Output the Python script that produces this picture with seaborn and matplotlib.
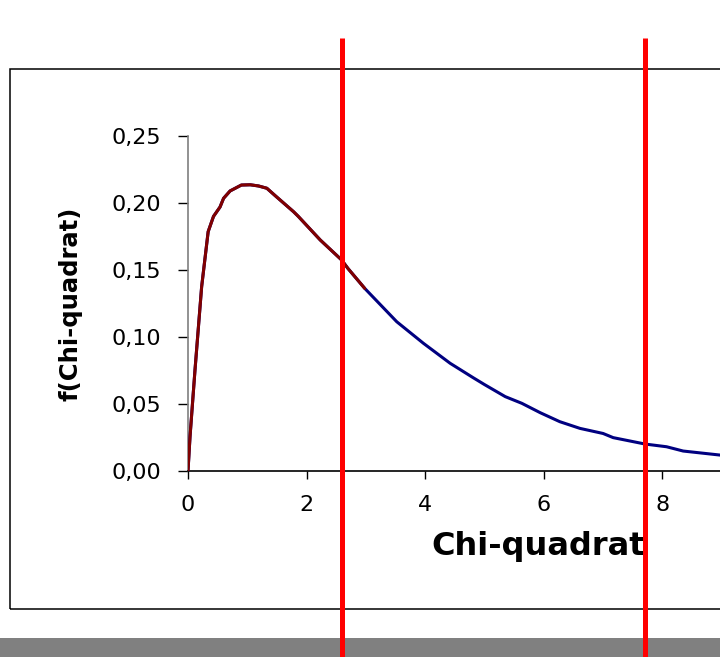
import numpy as np
import pandas as pd
import matplotlib
matplotlib.use("Agg")
import matplotlib.pyplot as plt
from matplotlib.patches import Rectangle
from matplotlib.ticker import FuncFormatter
import seaborn as sns

# density curve of the chi-square statistic
chi_x = [0.0, 0.034, 0.118, 0.23, 0.34, 0.43, 0.54, 0.60, 0.71, 0.90, 1.05, 1.19,
         1.33, 1.49, 1.78, 1.86, 2.23, 2.59, 2.70, 2.98, 3.52, 3.97,
         4.42, 4.81, 5.00, 5.35, 5.63, 5.94, 6.27, 6.61, 7.00, 7.17, 7.71, 8.07,
         8.35, 8.97, 10.0, 11.0, 12.0]
chi_f = [0.0, 0.0256, 0.0754, 0.1375, 0.1786, 0.190, 0.197, 0.2035, 0.209, 0.2134,
         0.2136, 0.2127, 0.211, 0.2047, 0.1935, 0.190, 0.1724,
         0.1575, 0.151, 0.1363, 0.1114, 0.0953, 0.0804, 0.0696, 0.0645, 0.0555,
         0.0505, 0.0435, 0.0368, 0.0318, 0.028, 0.0249, 0.0201, 0.0181, 0.0149,
         0.0119, 0.0080, 0.0055, 0.0035]
# highlighted lower part of the curve
lower_end = 2.98
# critical values marked by vertical lines
crit_values = [2.605, 7.715]

x_ticks = [0, 2, 4, 6, 8]
y_ticks = [0.00, 0.05, 0.10, 0.15, 0.20, 0.25]

df = pd.DataFrame({"x": chi_x, "f": chi_f})
df_low = df[df["x"] <= lower_end]

sns.set_style("white")
plt.rcParams["font.family"] = ["DejaVu Sans"]
plt.rcParams["text.color"] = "black"
plt.rcParams["axes.labelcolor"] = "black"

W, H = 720, 657
fig = plt.figure(figsize=(W / 100, H / 100), dpi=100)
fig.patch.set_facecolor("white")

# plot area (extends past the right edge of the canvas)
ax = fig.add_axes([188 / W, 186 / H, 711.6 / W, 335 / H])
ax.set_facecolor("none")

sns.lineplot(data=df, x="x", y="f", ax=ax, color="#000080", lw=2.2,
             sort=False, estimator=None, zorder=3)
sns.lineplot(data=df_low, x="x", y="f", ax=ax, color="#800000", lw=2.2,
             sort=False, estimator=None, zorder=4)

ax.set_xlim(0, 12)
ax.set_ylim(0, 0.25)
ax.set_xticks(x_ticks)
ax.set_yticks(y_ticks)
ax.yaxis.set_major_formatter(FuncFormatter(lambda v, p: f"{v:.2f}".replace(".", ",")))
ax.xaxis.set_major_formatter(FuncFormatter(lambda v, p: f"{v:g}"))

for s in ("top", "right"):
    ax.spines[s].set_visible(False)
ax.spines["left"].set_color("#7f7f7f")
ax.spines["left"].set_linewidth(1.2)
ax.spines["bottom"].set_color("black")
ax.spines["bottom"].set_linewidth(1.2)

ax.tick_params(axis="y", direction="out", length=7, width=1, pad=12,
               labelsize=16, colors="black", left=True)
ax.tick_params(axis="x", direction="out", length=5.5, width=1, pad=12,
               labelsize=16, colors="black", bottom=True)

ax.set_xlabel("Chi-quadrat", fontsize=23, fontweight="bold", color="black")
ax.xaxis.set_label_coords(0.492, -0.178)
ax.set_ylabel("f(Chi-quadrat)", fontsize=17.5, fontweight="bold", color="black")
ax.yaxis.set_label_coords(-0.1476, 0.5)

# vertical markers running over the whole canvas height
for c in crit_values:
    ax.axvline(c, ymin=-0.56, ymax=1.2925, color="#ff0000", lw=3.6,
               solid_capstyle="butt", clip_on=False, zorder=10)

# chart frame and footer band
fig.add_artist(Rectangle((9.5 / W, 48 / H), 1.2, 540 / H, transform=fig.transFigure,
                         fill=False, ec="black", lw=1.1, zorder=-2))
fig.add_artist(Rectangle((0, 0), 1, 19 / H, transform=fig.transFigure,
                         fc="#808080", ec="none", zorder=-2))

fig.savefig("out.png", dpi=100)
